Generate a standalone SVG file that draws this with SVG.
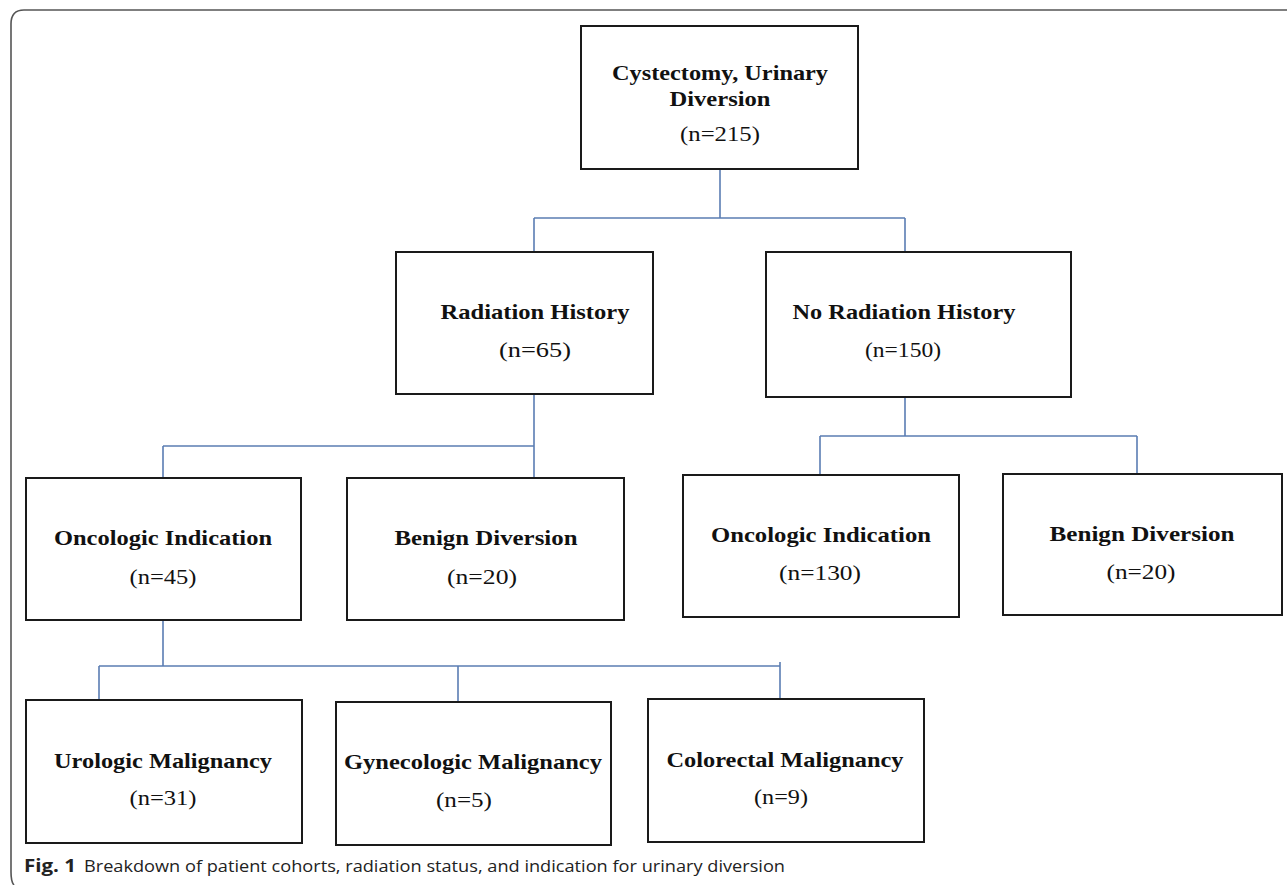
<svg xmlns="http://www.w3.org/2000/svg" width="1287" height="885" viewBox="0 0 1287 885">
<style>
.box{fill:#fff;stroke:#1a1a1a;stroke-width:2}
.t{font-family:"Liberation Serif","DejaVu Serif",serif;font-weight:bold;font-size:21px;fill:#111;text-anchor:middle}
.n{font-family:"Liberation Serif","DejaVu Serif",serif;font-size:21px;fill:#111;text-anchor:middle}
.c{fill:none;stroke:#5b7db3;stroke-width:1.6}
.frame{fill:none;stroke:#555;stroke-width:1.6}
.cap{font-family:"Open Sans","Liberation Sans",sans-serif;font-size:17px;fill:#222}
</style>
<rect width="1287" height="885" fill="#fff"/>
<path class="frame" d="M1287,10 H24 Q11,10 11,24 V872 Q11,882 14,885"/>
<g id="connectors">
<path class="c" d="M720,169 V218 M534,218 H905 M534,218 V252 M905,218 V252"/>
<path class="c" d="M534,394 V478 M163,446 H534 M163,446 V478"/>
<path class="c" d="M905,397 V436 M820,436 H1137 M820,436 V475 M1137,436 V474"/>
<path class="c" d="M163,620 V666 M99,666 H780 M99,666 V700 M458,666 V702 M780,662 V699"/>
</g>
<g id="n-root">
<rect class="box" x="581" y="26" width="277" height="143"/>
<text class="t" x="720" y="80" textLength="216" lengthAdjust="spacingAndGlyphs">Cystectomy, Urinary</text>
<text class="t" x="720" y="106" textLength="101" lengthAdjust="spacingAndGlyphs">Diversion</text>
<text class="n" x="720" y="141" textLength="80" lengthAdjust="spacingAndGlyphs">(n=215)</text>
</g>
<g id="n-rad">
<rect class="box" x="396" y="252" width="257" height="142"/>
<text class="t" x="535" y="319" textLength="189" lengthAdjust="spacingAndGlyphs">Radiation  History</text>
<text class="n" x="535" y="357" textLength="72" lengthAdjust="spacingAndGlyphs">(n=65)</text>
</g>
<g id="n-norad">
<rect class="box" x="766" y="252" width="305" height="145"/>
<text class="t" x="904" y="319" textLength="223" lengthAdjust="spacingAndGlyphs">No Radiation  History</text>
<text class="n" x="903" y="357" textLength="76" lengthAdjust="spacingAndGlyphs">(n=150)</text>
</g>
<g id="n-onc1">
<rect class="box" x="26" y="478" width="275" height="142"/>
<text class="t" x="163" y="545" textLength="218" lengthAdjust="spacingAndGlyphs">Oncologic Indication</text>
<text class="n" x="163" y="584" textLength="67" lengthAdjust="spacingAndGlyphs">(n=45)</text>
</g>
<g id="n-ben1">
<rect class="box" x="347" y="478" width="277" height="142"/>
<text class="t" x="486" y="545" textLength="183" lengthAdjust="spacingAndGlyphs">Benign  Diversion</text>
<text class="n" x="482" y="584" textLength="70" lengthAdjust="spacingAndGlyphs">(n=20)</text>
</g>
<g id="n-onc2">
<rect class="box" x="683" y="475" width="276" height="142"/>
<text class="t" x="821" y="542" textLength="220" lengthAdjust="spacingAndGlyphs">Oncologic Indication</text>
<text class="n" x="820" y="580" textLength="82" lengthAdjust="spacingAndGlyphs">(n=130)</text>
</g>
<g id="n-ben2">
<rect class="box" x="1003" y="474" width="279" height="141"/>
<text class="t" x="1142" y="541" textLength="185" lengthAdjust="spacingAndGlyphs">Benign Diversion</text>
<text class="n" x="1141" y="579" textLength="69" lengthAdjust="spacingAndGlyphs">(n=20)</text>
</g>
<g id="n-uro">
<rect class="box" x="26" y="700" width="276" height="143"/>
<text class="t" x="163" y="768" textLength="218" lengthAdjust="spacingAndGlyphs">Urologic Malignancy</text>
<text class="n" x="163" y="805" textLength="67" lengthAdjust="spacingAndGlyphs">(n=31)</text>
</g>
<g id="n-gyn">
<rect class="box" x="336" y="702" width="275" height="143"/>
<text class="t" x="473" y="769" textLength="258" lengthAdjust="spacingAndGlyphs">Gynecologic Malignancy</text>
<text class="n" x="464" y="807" textLength="56" lengthAdjust="spacingAndGlyphs">(n=5)</text>
</g>
<g id="n-col">
<rect class="box" x="648" y="699" width="276" height="143"/>
<text class="t" x="785" y="767" textLength="237" lengthAdjust="spacingAndGlyphs">Colorectal Malignancy</text>
<text class="n" x="781" y="804" textLength="54" lengthAdjust="spacingAndGlyphs">(n=9)</text>
</g>
<g id="caption">
<text class="cap" x="24" y="872" font-weight="bold" textLength="52" lengthAdjust="spacingAndGlyphs">Fig. 1</text>
<text class="cap" x="84" y="872" textLength="701" lengthAdjust="spacingAndGlyphs">Breakdown of patient cohorts, radiation status, and indication for urinary diversion</text>
</g>
</svg>
